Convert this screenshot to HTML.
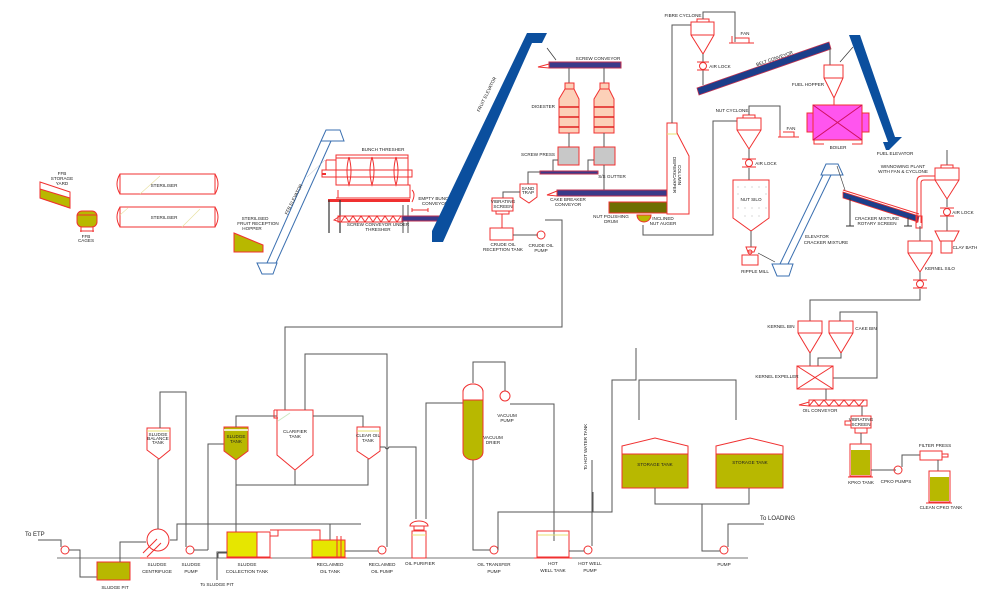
<!DOCTYPE html>
<html><head><meta charset="utf-8"><style>
html,body{margin:0;padding:0;background:#fff;}
svg{display:block;}
text{font-family:"Liberation Sans",sans-serif;font-size:4.6px;fill:#222;}
.r{fill:none;stroke:#f03030;stroke-width:1;}
.p{fill:none;stroke:#555;stroke-width:1;}
.b{fill:none;stroke:#3a6fb0;stroke-width:1;}
.nv{fill:#3a3a8a;stroke:#c03050;stroke-width:1;}
.ol{fill:#b8b800;stroke:#f03030;stroke-width:1;}
.ye{fill:#e6e600;stroke:#f03030;stroke-width:1;}
.dot{fill:#999;}
</style></head><body>
<svg width="1000" height="600" viewBox="0 0 1000 600" xmlns="http://www.w3.org/2000/svg">
<rect width="1000" height="600" fill="#fff"/>

<!-- FFB storage yard -->
<polygon points="40,182 70,192 70,208 40,198" class="r" fill="#fff"/>
<polygon points="40,189 70,198 70,208 40,198" class="ol"/>
<text x="62" y="175" text-anchor="middle">FFB</text><text x="62" y="180" text-anchor="middle">STORAGE</text><text x="62" y="185" text-anchor="middle">YARD</text>
<!-- FFB cages -->
<rect x="77" y="211" width="20" height="16" rx="5" class="ol"/>
<line x1="77" y1="215" x2="97" y2="215" stroke="#f03030"/>
<path d="M81,227 v5 M93,227 v5 M80,231 h14" class="r"/>
<text x="86" y="238" text-anchor="middle">FFB</text><text x="86" y="242" text-anchor="middle">CAGES</text>
<!-- Sterilisers -->
<g>
<rect x="120" y="174" width="95" height="20" class="r"/>
<path d="M120,174 q-6,10 0,20 M215,174 q6,10 0,20" class="r"/>
<line x1="140" y1="194" x2="160" y2="176" stroke="#e8e0a0" stroke-width=".6"/>
<text x="164" y="187" text-anchor="middle">STERILISER</text>
<rect x="120" y="207" width="95" height="20" class="r"/>
<path d="M120,207 q-6,10 0,20 M215,207 q6,10 0,20" class="r"/>
<line x1="182" y1="227" x2="200" y2="209" stroke="#e8e0a0" stroke-width=".6"/>
<line x1="120" y1="215" x2="128" y2="208" stroke="#e8e0a0" stroke-width=".6"/>
<text x="164" y="219" text-anchor="middle">STERILISER</text>
</g>
<!-- hopper -->
<polygon points="234,233 263,245 263,252 234,252" class="ol"/>
<text x="255" y="220" text-anchor="middle">STERILISED</text><text x="258" y="225" text-anchor="middle">FRUIT RECEPTION</text><text x="252" y="230" text-anchor="middle">HOPPER</text>
<!-- FFB elevator -->
<polygon points="257,263 277,263 273,274 262,274" class="b"/>
<polygon points="326,130 340,130 344,141 321,141" class="b"/>
<line x1="267" y1="263" x2="321" y2="141" class="b"/>
<line x1="276" y1="263" x2="331" y2="141" class="b"/>
<line x1="307" y1="177" x2="325" y2="160" stroke="#9ab" stroke-width=".4"/>
<text x="295" y="200" transform="rotate(-63 295 200)" text-anchor="middle">FFB ELEVATOR</text>
<!-- Bunch thresher -->
<rect x="336" y="155" width="72" height="30" class="r"/>
<rect x="336" y="155" width="72" height="3" class="r"/>
<rect x="322" y="170" width="90" height="7" class="r"/>
<path d="M326,160 h10 M326,160 v10 M336,185 h74 v13 h-74 M338,190 v8" class="r"/>
<path d="M349,157 q-4,14 0,28 q4,-14 0,-28 M372,157 q-4,14 0,28 q4,-14 0,-28 M396,157 q-4,14 0,28 q4,-14 0,-28" class="r"/>
<rect x="328" y="199" width="82" height="3" fill="#f03030"/>
<path d="M412,190 q4,4 0,12" class="r"/>
<line x1="322" y1="174" x2="326" y2="174" stroke="#f03030" stroke-width="2"/>
<text x="383" y="151" text-anchor="middle">BUNCH THRESHER</text>
<path d="M329,200 v33 M340,200 v33" stroke="#333" stroke-width="1.2"/>
<path d="M403,205 v28 M408,205 v28" stroke="#555" stroke-width="1"/>
<polyline points="341,222 345,216 349,222 353,216 357,222 361,216 365,222 369,216 373,222 377,216 381,222 385,216 389,222 393,216 397,222 401,216" class="r" fill="none"/>
<rect x="338" y="216" width="64" height="6" class="r"/>
<polygon points="334,220 340,216 340,222" class="r"/>
<rect x="402" y="216" width="37" height="5" class="nv"/>
<path d="M412,210 h16 M412,208 v4 M428,208 v4" class="r"/>
<text x="435" y="200" text-anchor="middle">EMPTY BUNCH</text><text x="435" y="205" text-anchor="middle">CONVEYOR</text>
<text x="378" y="226" text-anchor="middle">SCREW CONVEYOR UNDER</text><text x="378" y="231" text-anchor="middle">THRESHER</text>
<!-- Fruit elevator -->
<polygon points="432,231 527,33 547,33 542,43 532,43 443,242 432,242" fill="#0b4f9e"/>
<text x="488" y="95" transform="rotate(-64 488 95)" text-anchor="middle">FRUIT ELEVATOR</text>
<line x1="547" y1="48" x2="556" y2="60" stroke="#333" stroke-width=".7"/>
<!-- screw conveyor -->
<rect x="549" y="62" width="72" height="6" class="nv"/>
<polygon points="538,67 549,64 549,68" class="r"/>
<text x="598" y="60" text-anchor="middle">SCREW CONVEYOR</text>
<path d="M569,68 v15 M604,68 v15" class="p"/>
<!-- digesters -->
<g fill="#fcd0b8" stroke="#f03030">
<rect x="565" y="83" width="9" height="6"/><path d="M565,89 l-6,10 v34 h20 v-34 l-5,-10z"/>
<rect x="600" y="83" width="9" height="6"/><path d="M600,89 l-6,10 v34 h20 v-34 l-5,-10z"/>
</g>
<path d="M559,107 h20 M559,117 h20 M559,127 h20 M594,107 h20 M594,117 h20 M594,127 h20" stroke="#e02020" stroke-width="1.4"/>
<text x="555" y="108" text-anchor="end">DIGESTER</text>
<path d="M569,133 v14 M604,133 v14" class="p"/>
<rect x="558" y="147" width="21" height="18" fill="#c8c8c8" stroke="#f03030"/>
<rect x="594" y="147" width="21" height="18" fill="#c8c8c8" stroke="#f03030"/>
<text x="555" y="156" text-anchor="end">SCREW PRESS</text>
<path d="M558,160 h-5 v12 M594,160 h-6 v12 M604,165 v25" class="p"/>
<rect x="540" y="171" width="58" height="3" class="nv"/>
<text x="612" y="178" text-anchor="middle">S/S GUTTER</text>
<path d="M540,172 h-12 v12" class="p"/>
<path d="M520,184 h17 v13 l-8,6 l-9,-6z" class="r"/>
<text x="528" y="190" text-anchor="middle">SAND</text><text x="528" y="194" text-anchor="middle">TRAP</text>
<rect x="557" y="190" width="110" height="6" class="nv"/>
<polygon points="547,195 557,191 557,196" class="r"/>
<text x="568" y="201" text-anchor="middle">CAKE BREAKER</text><text x="568" y="206" text-anchor="middle">CONVEYOR</text>
<!-- vibrating screen & crude oil -->
<path d="M520,192 h-17 v6" class="p"/>
<rect x="492" y="198" width="21" height="13" class="r"/>
<text x="503" y="203" text-anchor="middle">VIBRATING</text><text x="503" y="208" text-anchor="middle">SCREEN</text>
<path d="M496,211 h13 v3 h-13z M502,214 v14" class="r"/>
<rect x="490" y="228" width="23" height="12" class="r"/>
<line x1="513" y1="235" x2="538" y2="235" class="p"/>
<circle cx="541" cy="235" r="4" class="r"/>
<text x="503" y="246" text-anchor="middle">CRUDE OIL</text><text x="503" y="251" text-anchor="middle">RECEPTION TANK</text>
<text x="541" y="247" text-anchor="middle">CRUDE OIL</text><text x="541" y="252" text-anchor="middle">PUMP</text>
<path d="M545,220 h17 v107 h-277 v83" class="p"/>
<!-- nut polishing -->
<rect x="609" y="202" width="58" height="11" fill="#6e6e00" stroke="#f03030"/>
<text x="611" y="218" text-anchor="middle">NUT POLISHING</text><text x="611" y="223" text-anchor="middle">DRUM</text>
<path d="M637,215 h14 a7,7 0 0 1 -14,0z" class="ol"/>
<text x="663" y="220" text-anchor="middle">INCLINED</text><text x="663" y="225" text-anchor="middle">NUT AUGER</text>
<path d="M643,225 v10 h70 v-114 h24" class="p"/>
<!-- depericarper -->
<path d="M667,123 h10 v10 l12,23 v58 h-22z" class="r"/>
<line x1="667" y1="134" x2="677" y2="134" stroke="#e8e070"/>
<text x="673" y="175" transform="rotate(90 673 175)" text-anchor="middle">DEPERICARPER</text>
<text x="678" y="175" transform="rotate(90 678 175)" text-anchor="middle">COLUMN</text>
<path d="M672,123 v-98 h19" class="p"/>
<!-- fibre cyclone -->
<rect x="697" y="19" width="12" height="3" class="r"/>
<path d="M691,22 h23 v13 l-11,19 l-12,-19z M691,35 h23" class="r"/>
<path d="M703,19 v-7 h32 v30" class="p"/>
<path d="M729,43 h25 M732,36 v7 M735,38 h14 v5" class="r"/>
<text x="745" y="35" text-anchor="middle">FAN</text>
<text x="683" y="17" text-anchor="middle">FIBRE CYCLONE</text>
<path d="M703,54 v8 M703,70 v15" class="p"/>
<circle cx="703" cy="66" r="3.5" class="r"/><path d="M697,62 h12 M697,70 h12" class="r"/>
<text x="720" y="68" text-anchor="middle">AIR LOCK</text>
<!-- belt conveyor -->
<polygon points="697,88 829,42 831,49 699,95" fill="#1c3e8a" stroke="#c03050" stroke-width=".8"/>
<text x="775" y="60" transform="rotate(-19 775 60)" text-anchor="middle">BELT CONVEYOR</text>
<path d="M830,48 v17" class="p"/>
<!-- fuel hopper & boiler -->
<path d="M824,65 h19 v13 l-9,20 l-10,-20z M824,78 h19" class="r"/>
<text x="808" y="86" text-anchor="middle">FUEL HOPPER</text>
<path d="M834,97 v8" class="r"/>
<rect x="807" y="113" width="62" height="19" fill="#ff55ee" stroke="#f03030"/>
<rect x="813" y="105" width="49" height="35" fill="#ff55ee" stroke="#f03030"/>
<path d="M813,105 L862,140 M862,105 L813,140" stroke="#d01060"/>
<path d="M814,140 v4 h10 M852,144 h10 v-4" class="r"/>
<text x="838" y="149" text-anchor="middle">BOILER</text>
<!-- fuel elevator -->
<polygon points="849,35 860,35 895,137 902,137 889,150 886,150 883,142 888,142" fill="#0b4f9e"/>
<line x1="840" y1="62" x2="853" y2="47" stroke="#333" stroke-width=".7"/>
<text x="895" y="155" text-anchor="middle">FUEL ELEVATOR</text>
<!-- nut cyclone -->
<rect x="743" y="115" width="12" height="3" class="r"/>
<path d="M737,118 h24 v12 l-12,19 l-12,-19z M737,130 h24" class="r"/>
<text x="732" y="112" text-anchor="middle">NUT CYCLONE</text>
<path d="M749,115 v-9 h31 v31" class="p"/>
<path d="M778,137 h21 M780,130 v7 M783,132 h11 v5" class="r"/>
<text x="791" y="130" text-anchor="middle">FAN</text>
<path d="M749,149 v10 M749,168 v12" class="p"/>
<circle cx="749" cy="163" r="3.5" class="r"/><path d="M742,159 h14 M742,167 h14" class="r"/>
<text x="766" y="165" text-anchor="middle">AIR LOCK</text>
<path d="M733,180 h36 v38 l-18,13 l-18,-13z" class="r"/>
<text x="751" y="201" text-anchor="middle">NUT SILO</text>
<g class="dot">
<circle cx="738" cy="187" r=".5"/><circle cx="745" cy="187" r=".5"/><circle cx="752" cy="187" r=".5"/><circle cx="759" cy="187" r=".5"/><circle cx="766" cy="187" r=".5"/>
<circle cx="738" cy="194" r=".5"/><circle cx="766" cy="194" r=".5"/>
<circle cx="738" cy="208" r=".5"/><circle cx="745" cy="208" r=".5"/><circle cx="752" cy="208" r=".5"/><circle cx="759" cy="208" r=".5"/><circle cx="766" cy="208" r=".5"/>
<circle cx="745" cy="216" r=".5"/><circle cx="752" cy="216" r=".5"/><circle cx="759" cy="216" r=".5"/>
</g>
<path d="M751,231 v16" class="p"/>
<path d="M746,247 h10 l-2,5 h-6z M742,255 h16 v10 h-16z" class="r"/>
<circle cx="750" cy="252" r="2" class="r"/>
<text x="755" y="273" text-anchor="middle">RIPPLE MILL</text>
<line x1="758" y1="253" x2="775" y2="262" stroke="#333" stroke-width=".6"/>
<!-- cracker elevator -->
<polygon points="772,264 793,264 789,276 777,276" class="b"/>
<polygon points="826,164 838,164 843,175 821,175" class="b"/>
<line x1="780" y1="264" x2="823" y2="175" class="b"/><line x1="788" y1="264" x2="831" y2="175" class="b"/>
<text x="817" y="238" text-anchor="middle">ELEVATOR</text><text x="826" y="244" text-anchor="middle">CRACKER MIXTURE</text>
<line x1="837" y1="166" x2="845" y2="190" stroke="#333" stroke-width=".6"/>
<!-- rotary screen -->
<polygon points="843,192 919,216 918,222 843,198" fill="#1c3e8a" stroke="#f03030" stroke-width=".8"/>
<line x1="843" y1="190" x2="919" y2="214" stroke="#f03030"/>
<path d="M850,198 v28 M908,217 v9" stroke="#333"/>
<path d="M846,226 h8 M904,226 h8" stroke="#333"/>
<text x="877" y="220" text-anchor="middle">CRACKER MIXTURE</text><text x="877" y="225" text-anchor="middle">ROTARY SCREEN</text>
<!-- winnowing -->
<path d="M917,223 v-42 q0,-5 5,-5 h13" class="r"/><path d="M921,223 v-40 q0,-3 3,-3 h11" class="r"/>
<path d="M916,216 h6 v12 h-6z" class="r"/>
<text x="903" y="168" text-anchor="middle">WINNOWING PLANT</text><text x="903" y="173" text-anchor="middle">WITH FAN &amp; CYCLONE</text>
<path d="M947,150 v15" class="p"/>
<rect x="941" y="165" width="12" height="3" class="r"/>
<path d="M935,168 h24 v12 l-12,19 l-12,-19z M935,180 h24" class="r"/>
<path d="M947,199 v8 M947,216 v15" class="p"/>
<circle cx="947" cy="212" r="3.5" class="r"/><path d="M940,208 h14 M940,216 h14" class="r"/>
<text x="963" y="214" text-anchor="middle">AIR LOCK</text>
<path d="M935,231 h24 l-5,10 h-14z M941,241 h11 v12 h-11z" class="r"/>
<text x="965" y="249" text-anchor="middle">CLAY BATH</text>
<path d="M920,226 v15" class="p"/>
<path d="M908,241 h24 v12 l-12,19 l-12,-19z M908,253 h24" class="r"/>
<text x="940" y="270" text-anchor="middle">KERNEL SILO</text>
<path d="M920,272 v8 M920,289 v11 h-110 v21" class="p"/>
<circle cx="920" cy="284" r="3.5" class="r"/><path d="M913,280 h14 M913,288 h14" class="r"/>
<!-- kernel bin / cake bin -->
<path d="M798,321 h24 v12 l-12,20 l-12,-20z M798,333 h24 M829,321 h24 v12 l-12,20 l-12,-20z M829,333 h24" class="r"/>
<text x="781" y="328" text-anchor="middle">KERNEL BIN</text><text x="866" y="330" text-anchor="middle">CAKE BIN</text>
<path d="M840,321 v-9 h37 v66 h-44 M810,353 v13 M841,353 v5 h-23 v8" class="p"/>
<rect x="797" y="366" width="36" height="23" class="r"/>
<path d="M797,366 L833,389 M833,366 L797,389" class="r"/>
<text x="777" y="378" text-anchor="middle">KERNEL EXPELLER</text>
<path d="M826,389 v11" class="p"/>
<rect x="809" y="400" width="58" height="6" class="r"/>
<polyline points="809,406 814,400 819,406 824,400 829,406 834,400 839,406 844,400 849,406 854,400 859,406 864,400" fill="none" stroke="#f03030"/>
<polygon points="799,405 809,402 809,406" class="r"/>
<text x="820" y="412" text-anchor="middle">OIL CONVEYOR</text>
<path d="M862,406 v10" class="p"/>
<rect x="851" y="416" width="20" height="12" class="r"/>
<path d="M845,425 h6 v-4 h-6z M855,428 h12 v5 h-12z" class="r"/>
<text x="861" y="421" text-anchor="middle">VIBRATING</text><text x="861" y="426" text-anchor="middle">SCREEN</text>
<path d="M861,433 v11" class="p"/>
<rect x="850" y="444" width="21" height="32" class="r"/>
<rect x="851" y="450" width="19" height="25" fill="#b8b800"/>
<path d="M848,477 h25" class="r"/>
<text x="861" y="484" text-anchor="middle">KPKO TANK</text>
<path d="M871,470 h25" class="p"/>
<circle cx="898" cy="470" r="4" class="r"/>
<text x="896" y="483" text-anchor="middle">CPKO PUMPS</text>
<path d="M902,467 v-12 h18" class="p"/>
<rect x="920" y="451" width="22" height="9" class="r"/>
<path d="M942,454 h6 v3 h-6" class="r"/>
<text x="935" y="447" text-anchor="middle">FILTER PRESS</text>
<path d="M938,460 v11" class="p"/>
<rect x="929" y="471" width="21" height="31" class="r"/>
<rect x="930" y="477" width="19" height="24" fill="#b8b800"/>
<path d="M926,503 h26" class="r"/>
<text x="941" y="509" text-anchor="middle">CLEAN CPKO TANK</text>

<!-- ===== bottom oil room ===== -->
<line x1="57" y1="558" x2="748" y2="558" stroke="#777" stroke-width="1"/>
<text x="25" y="536" style="font-size:6px">To  ETP</text>
<path d="M38,540 h23 v7" class="p"/>
<g class="r">
<circle cx="65" cy="550" r="4"/><circle cx="190" cy="550" r="4"/><circle cx="382" cy="550" r="4"/><circle cx="494" cy="550" r="4"/><circle cx="588" cy="550" r="4"/><circle cx="724" cy="550" r="4"/>
</g>
<path d="M69,550 h11 v27 h17" class="p"/>
<rect x="97" y="562" width="33" height="18" class="ol"/>
<text x="115" y="589" text-anchor="middle">SLUDGE PIT</text>
<path d="M120,562 v-20 h26" class="p"/>
<circle cx="158" cy="540" r="11" class="r"/>
<path d="M143,553 l14,-14 M147,557 l14,-14 M140,558 h30" class="r"/>
<text x="157" y="566" text-anchor="middle">SLUDGE</text><text x="157" y="573" text-anchor="middle">CENTRIFUGE</text>
<text x="191" y="566" text-anchor="middle">SLUDGE</text><text x="191" y="573" text-anchor="middle">PUMP</text>
<path d="M147,428 h23 v22 l-11,9 l-12,-9z" class="r"/>
<line x1="147" y1="431" x2="170" y2="431" stroke="#e8e070"/>
<text x="158" y="436" text-anchor="middle">SLUDGE</text><text x="158" y="440" text-anchor="middle">BALANCE</text><text x="158" y="444" text-anchor="middle">TANK</text>
<path d="M158,459 v70 M160,428 v-36 h26 v155" class="p"/>
<path d="M170,540 h7 v-16 h184 M330,524 v34" class="p"/>
<path d="M208,550 v-106 h16 M194,550 h14" class="p"/>
<path d="M224,427 h24 v24 l-12,9 l-12,-9z" class="ol"/>
<line x1="224" y1="430" x2="248" y2="430" stroke="#fff" stroke-width="1.5"/>
<text x="236" y="438" text-anchor="middle">SLUDGE</text><text x="236" y="443" text-anchor="middle">TANK</text>
<path d="M236,460 v82 M236,427 v-11 h41 M295,470 v15 M236,485 h132 v-26" class="p"/>
<path d="M274,410 h39 v45 l-18,15 l-18,-15v-45 M274,410 v8 h4" class="r"/>
<line x1="278" y1="421" x2="290" y2="413" stroke="#cde8c0"/>
<text x="295" y="433" text-anchor="middle">CLARIFIER</text><text x="295" y="438" text-anchor="middle">TANK</text>
<path d="M305,410 v-56 h82 v193 M313,416 h50 v11" class="p"/>
<path d="M357,427 h23 v24 l-11,8 l-12,-8z" class="r"/>
<line x1="357" y1="431" x2="380" y2="431" stroke="#e8e070"/>
<text x="368" y="437" text-anchor="middle">CLEAR OIL</text><text x="368" y="442" text-anchor="middle">TANK</text>
<path d="M380,447 h5 q2,4 4,0 h27 v72" class="p"/>
<rect x="227" y="532" width="30" height="25" class="ye"/>
<rect x="257" y="532" width="13" height="25" class="r"/>
<path d="M270,530 h8 v6 h-8 M278,530 h42 v10 M226,558 h46" class="r"/>
<text x="247" y="566" text-anchor="middle">SLUDGE</text><text x="247" y="573" text-anchor="middle">COLLECTION TANK</text>
<path d="M218,558 v-5 M218,553 h9" class="p"/>
<text x="217" y="586" text-anchor="middle">To SLUDGE PIT</text>
<path d="M217,580 v-28 h10" class="p"/>
<rect x="312" y="540" width="33" height="17" class="ye"/>
<path d="M337,536 v21 M341,536 v21 M310,558 h37" class="r"/>
<text x="330" y="566" text-anchor="middle">RECLAIMED</text><text x="330" y="573" text-anchor="middle">OIL TANK</text>
<path d="M345,551 h33" class="p"/>
<text x="382" y="566" text-anchor="middle">RECLAIMED</text><text x="382" y="573" text-anchor="middle">OIL PUMP</text>
<path d="M410,526 a9,5 0 0 1 18,0 z M414,526 v4 h10 v-4 M412,531 h14 v27 h-14z" class="r"/>
<line x1="412" y1="535" x2="426" y2="535" stroke="#e8e070"/>
<text x="420" y="565" text-anchor="middle">OIL PURIFIER</text>
<path d="M426,519 v-116 h37" class="p"/>
<!-- vacuum drier -->
<path d="M463,392 a10,8 0 0 1 20,0 v60 a10,8 0 0 1 -20,0z" class="ol"/>
<path d="M463,392 a10,8 0 0 1 20,0 v8 h-20z" fill="#fff" stroke="#f03030"/>
<text x="493" y="439" text-anchor="middle">VACUUM</text><text x="493" y="444" text-anchor="middle">DRIER</text>
<path d="M473,383 v-21 h32 v29 M473,460 v90 h17" class="p"/>
<circle cx="505" cy="396" r="5" class="r"/>
<text x="507" y="417" text-anchor="middle">VACUUM</text><text x="507" y="422" text-anchor="middle">PUMP</text>
<path d="M510,404 h44 v137 M498,550 v-38 h95 v-20 M498,512 h62" class="p"/>
<text x="494" y="566" text-anchor="middle">OIL TRANSFER</text><text x="494" y="573" text-anchor="middle">PUMP</text>
<rect x="537" y="531" width="32" height="26" class="r"/>
<line x1="538" y1="535" x2="568" y2="535" stroke="#e8e070"/>
<path d="M534,558 h38" class="r"/>
<text x="553" y="565" text-anchor="middle">HOT</text><text x="553" y="572" text-anchor="middle">WELL TANK</text>
<path d="M569,551 h15 M592,546 v-86 M593,512 h19 v-132 h24 v-32 M639,420 v-40 h97 v40" class="p"/>
<text x="587" y="470" transform="rotate(-90 587 470)">To  HOT  WATER  TANK</text>
<text x="590" y="565" text-anchor="middle">HOT WELL</text><text x="590" y="572" text-anchor="middle">PUMP</text>
<!-- storage tanks -->
<path d="M622,446 l33,-8 l33,8 v42 h-66z" fill="#fff" stroke="#f03030"/>
<rect x="622" y="454" width="66" height="34" fill="#b8b800" stroke="#f03030"/>
<text x="655" y="466" text-anchor="middle">STORAGE TANK</text>
<path d="M716,446 l34,-8 l33,8 v42 h-67z" fill="#fff" stroke="#f03030"/>
<rect x="716" y="454" width="67" height="34" fill="#b8b800" stroke="#f03030"/>
<text x="750" y="464" text-anchor="middle">STORAGE TANK</text>
<path d="M655,488 v16 h94 v-16 M702,504 v47 h18 M728,547 v-23 h36" class="p"/>
<text x="760" y="520" style="font-size:6px">To  LOADING</text>
<text x="724" y="566" text-anchor="middle">PUMP</text>
</svg>
</body></html>
